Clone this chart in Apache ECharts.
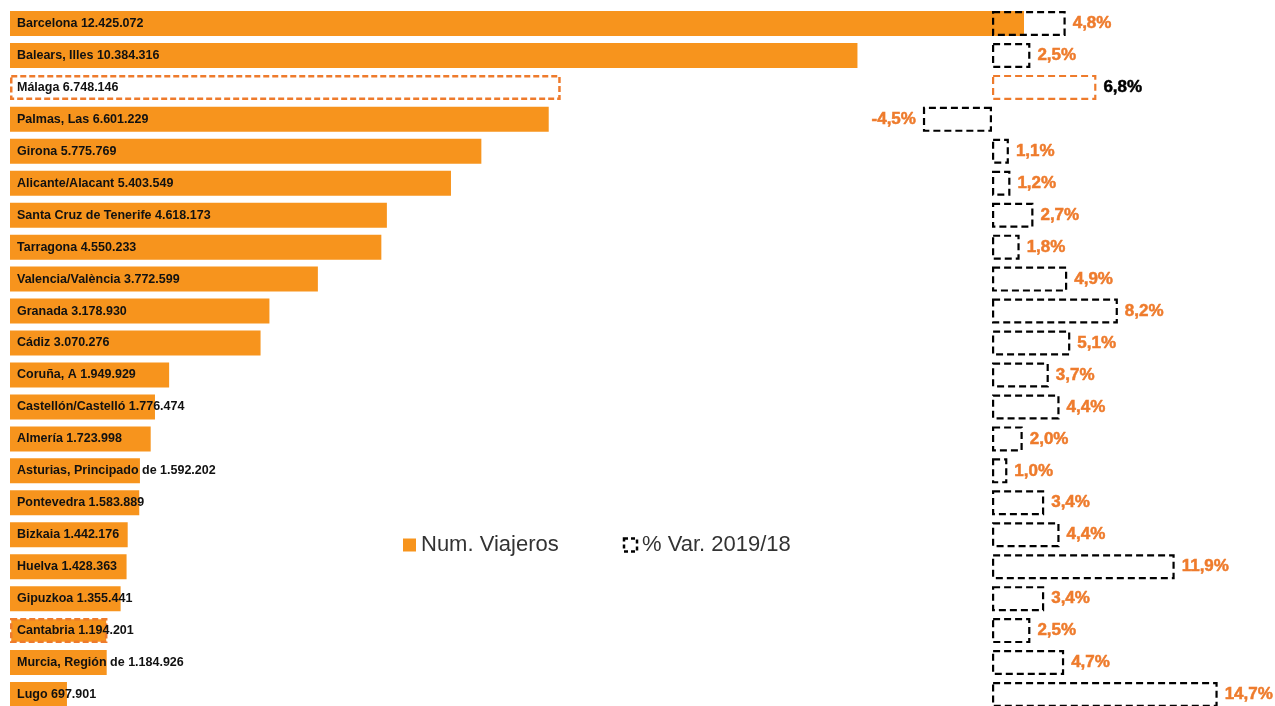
<!DOCTYPE html>
<html>
<head>
<meta charset="utf-8">
<script src="https://cdn.jsdelivr.net/npm/echarts@6/dist/echarts.min.js"></script>
<style>html,body{margin:0;padding:0;background:#fff;}#c{width:1275px;height:706px;}</style>
</head>
<body>
<div id="c"></div>
<script>
const categories = ['Barcelona','Balears, Illes','Málaga','Palmas, Las','Girona','Alicante/Alacant','Santa Cruz de Tenerife','Tarragona','Valencia/València','Granada','Cádiz','Coruña, A','Castellón/Castelló','Almería','Asturias, Principado de','Pontevedra','Bizkaia','Huelva','Gipuzkoa','Cantabria','Murcia, Región de','Lugo'];
const viajeros = [12425072,10384316,6748146,6601229,5775769,5403549,4618173,4550233,3772599,3178930,3070276,1949929,1776474,1723998,1592202,1583889,1442176,1428363,1355441,1194201,1184926,697901];
const variacion = [4.8,2.5,6.8,-4.5,1.1,1.2,2.7,1.8,4.9,8.2,5.1,3.7,4.4,2.0,1.0,3.4,4.4,11.9,3.4,2.5,4.7,14.7];
const highlight = 'Málaga';
const outlined = 'Cantabria';

const ORANGE = '#F7941D';
const DARK_ORANGE = '#EE7B2C';
const FONT = '"Liberation Sans", Arial, sans-serif';

function fmt(n){ return String(n).replace(/\B(?=(\d{3})+(?!\d))/g, '.'); }
function fmtPct(v){ return v.toFixed(1).replace('.', ',') + '%'; }

const leftData = viajeros.map((v,i)=>{
  const d = {value: v};
  if (categories[i] === highlight) {
    d.itemStyle = {color:'rgba(255,255,255,0)', borderColor: DARK_ORANGE, borderWidth: 2.5, borderType:[6,3]};
  } else if (categories[i] === outlined) {
    d.itemStyle = {color: ORANGE, borderColor: DARK_ORANGE, borderWidth: 2.5, borderType:[6,3]};
  }
  return d;
});
const rightData = variacion.map((v,i)=>{
  const d = {value: v};
  if (categories[i] === highlight) {
    d.itemStyle = {borderColor: DARK_ORANGE};
    d.label = {color:'#000', textBorderColor:'#000'};
  }
  if (v < 0) {
    d.label = Object.assign(d.label||{}, {position:'left'});
  }
  return d;
});

const chart = echarts.init(document.getElementById('c'));
chart.setOption({
  animation: false,
  backgroundColor: '#fff',
  legend: {
    left: 398, top: 529,
    itemWidth: 13, itemHeight: 13, itemGap: 64,
    textStyle: {fontFamily: FONT, fontSize: 22, color: '#333'},
    data: [
      {name:'Num. Viajeros', icon:'rect'},
      {name:'% Var. 2019/18', icon:'rect', itemStyle:{color:'rgba(0,0,0,0)', borderColor:'#000', borderWidth:2.5, borderType:[4,3]}}
    ]
  },
  grid: [
    {left: 10, width: 1014, top: 7.5, height: 703, outerBoundsMode: 'none'},
    {left: 915.25, width: 307, top: 7.5, height: 703, outerBoundsMode: 'none'}
  ],
  xAxis: [
    {gridIndex:0, type:'value', min:0, max:'dataMax', show:false},
    {gridIndex:1, type:'value', min:-5, max:15, show:false}
  ],
  yAxis: [
    {gridIndex:0, type:'category', data:categories, inverse:true, show:false},
    {gridIndex:1, type:'category', data:categories, inverse:true, show:false}
  ],
  series: [
    {
      name:'Num. Viajeros', type:'bar', xAxisIndex:0, yAxisIndex:0,
      barWidth: 25, data: leftData,
      itemStyle: {color: ORANGE},
      label: {
        show:true, position:'insideLeft', distance:7,
        fontFamily: FONT, fontSize: 12.5, fontWeight: 700, color:'#111',
        formatter: p => p.name + ' ' + fmt(p.value)
      },
      z: 2
    },
    {
      name:'% Var. 2019/18', type:'bar', xAxisIndex:1, yAxisIndex:1,
      barWidth: 25, data: rightData,
      itemStyle: {color:'rgba(0,0,0,0)', borderColor:'#000', borderWidth:2.2, borderType:[7,4]},
      label: {
        show:true, position:'right', distance:7,
        fontFamily: FONT, fontSize: 17, fontWeight: 700, color: DARK_ORANGE,
        textBorderColor: DARK_ORANGE, textBorderWidth:0.5,
        formatter: p => fmtPct(p.value)
      },
      z: 3
    }
  ]
});
</script>
</body>
</html>
